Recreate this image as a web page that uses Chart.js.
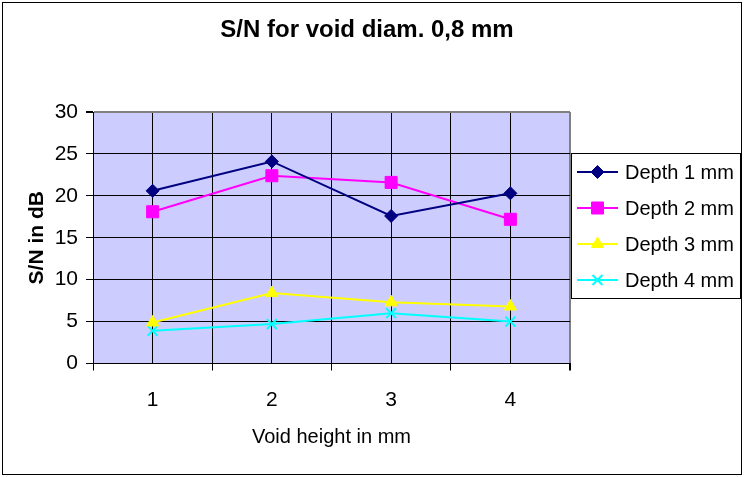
<!DOCTYPE html>
<html>
<head>
<meta charset="utf-8">
<title>S/N for void diam. 0,8 mm</title>
<script src="https://cdn.jsdelivr.net/npm/chart.js@4.4.0/dist/chart.umd.min.js"></script>
<style>
  html, body { margin: 0; padding: 0; background: #fff; }
  canvas { display: block; }
</style>
</head>
<body>
<canvas id="grafica" width="744" height="477"></canvas>
<script>
// void heights in mm (x axis)
const alturas = [1, 2, 3, 4];

// S/N in dB for each depth
const depth1 = [20.6, 24.1, 17.6, 20.3];
const depth2 = [18.1, 22.4, 21.6, 17.2];
const depth3 = [4.9, 8.4, 7.3, 6.8];
const depth4 = [3.9, 4.7, 6.0, 5.0];

const etiquetas = ["Depth 1 mm", "Depth 2 mm", "Depth 3 mm", "Depth 4 mm"];
const colores = ["#000080", "#FF00FF", "#FFFF00", "#00FFFF"];
const marcadores = ["rectRot", "rect", "triangle", "crossRot"];
const radios = [6.5, 8.5, 7, 7];

const yMin = 0, yMax = 30, yPaso = 5;

const fuente = "'Liberation Sans', Arial, sans-serif";

function puntos(valores) {
    return alturas.map((h, i) => ({ x: h, y: valores[i] }));
}

const series = [depth1, depth2, depth3, depth4];

const datasets = series.map((valores, i) => ({
    label: etiquetas[i],
    data: puntos(valores),
    borderColor: colores[i],
    backgroundColor: colores[i],
    borderWidth: 2,
    pointStyle: marcadores[i],
    pointRadius: radios[i],
    pointBackgroundColor: colores[i],
    pointBorderColor: colores[i],
    pointBorderWidth: marcadores[i] === "crossRot" ? 2 : 1,
    tension: 0,
    fill: false
}));

// fondo, marco exterior, titulo y leyenda
const decorado = {
    id: "decorado",
    beforeDraw(chart) {
        const ctx = chart.ctx;
        const a = chart.chartArea;
        ctx.save();
        ctx.fillStyle = "#fff";
        ctx.fillRect(0, 0, chart.width, chart.height);
        ctx.strokeStyle = "#000";
        ctx.lineWidth = 1;
        ctx.strokeRect(2.5, 2.5, chart.width - 5, chart.height - 5);
        ctx.fillStyle = "#CCCCFF";
        ctx.fillRect(a.left, a.top, a.right - a.left, a.bottom - a.top);
        ctx.restore();
    },
    afterDraw(chart) {
        const ctx = chart.ctx;
        ctx.save();
        // titulo
        ctx.fillStyle = "#000";
        ctx.font = "bold 24px " + fuente;
        ctx.textAlign = "center";
        ctx.textBaseline = "middle";
        ctx.fillText("S/N for void diam. 0,8 mm", 367, 30);

        // leyenda
        const lx = 571.5, ly = 153.5, lw = 169, lh = 145;
        ctx.fillStyle = "#fff";
        ctx.fillRect(lx, ly, lw, lh);
        ctx.strokeStyle = "#000";
        ctx.lineWidth = 1;
        ctx.strokeRect(lx, ly, lw, lh);

        chart.data.datasets.forEach((ds, i) => {
            const y = 172 + i * 36;
            ctx.strokeStyle = ds.borderColor;
            ctx.lineWidth = 2;
            ctx.beginPath();
            ctx.moveTo(577, y);
            ctx.lineTo(618, y);
            ctx.stroke();

            ctx.fillStyle = ds.pointBackgroundColor;
            ctx.strokeStyle = ds.pointBorderColor;
            ctx.lineWidth = ds.pointBorderWidth;
            Chart.helpers.drawPoint(ctx, {
                pointStyle: ds.pointStyle,
                radius: ds.pointRadius,
                rotation: 0,
                borderWidth: ds.pointBorderWidth
            }, 597.5, y);

            ctx.fillStyle = "#000";
            ctx.font = "20px " + fuente;
            ctx.textAlign = "left";
            ctx.textBaseline = "middle";
            ctx.fillText(ds.label, 625, y + 1);
        });
        ctx.restore();
    }
};

const grafica = document.getElementById("grafica").getContext("2d");

const myChart = new Chart(grafica, {
    type: "line",
    data: { datasets: datasets },
    plugins: [decorado],
    options: {
        responsive: false,
        animation: false,
        layout: {
            padding: { left: 0, top: 112, right: 174, bottom: 0 }
        },
        plugins: {
            legend: { display: false },
            title: { display: false },
            tooltip: { enabled: false }
        },
        scales: {
            x: {
                type: "linear",
                min: 0.5,
                max: 4.5,
                afterFit(scale) { scale.height = 477 - 363.5; },
                ticks: {
                    stepSize: 0.5,
                    color: "#000",
                    font: { family: fuente, size: 21 },
                    padding: 17,
                    maxRotation: 0,
                    autoSkip: false,
                    callback: v => Number.isInteger(v) ? String(v) : ""
                },
                grid: {
                    color: c => (c.tick && c.tick.value === 4.5) ? "#808080" : "#000",
                    lineWidth: c => (c.tick && c.tick.value === 4.5) ? 2 : 1,
                    tickColor: c => (c.tick && Number.isInteger(c.tick.value)) ? "rgba(0,0,0,0)" : "#000",
                    tickLength: 7
                },
                border: { color: "#000", width: 1 },
                title: {
                    display: true,
                    text: "Void height in mm",
                    color: "#000",
                    font: { family: fuente, size: 20 },
                    padding: { top: 0, bottom: 28 }
                }
            },
            y: {
                min: yMin,
                max: yMax,
                afterFit(scale) { scale.width = 93; },
                ticks: {
                    stepSize: yPaso,
                    color: "#000",
                    font: { family: fuente, size: 21 },
                    padding: 8
                },
                grid: {
                    color: c => (c.tick && c.tick.value === yMax) ? "#808080" : "#000",
                    lineWidth: c => (c.tick && c.tick.value === yMax) ? 2 : 1,
                    tickColor: "#000",
                    tickLength: 7
                },
                border: { color: "#000", width: 1 },
                title: {
                    display: true,
                    text: "S/N in dB",
                    color: "#000",
                    font: { family: fuente, size: 21, weight: "bold" },
                    padding: { top: 25, bottom: 0 }
                }
            }
        }
    }
});
</script>
</body>
</html>
